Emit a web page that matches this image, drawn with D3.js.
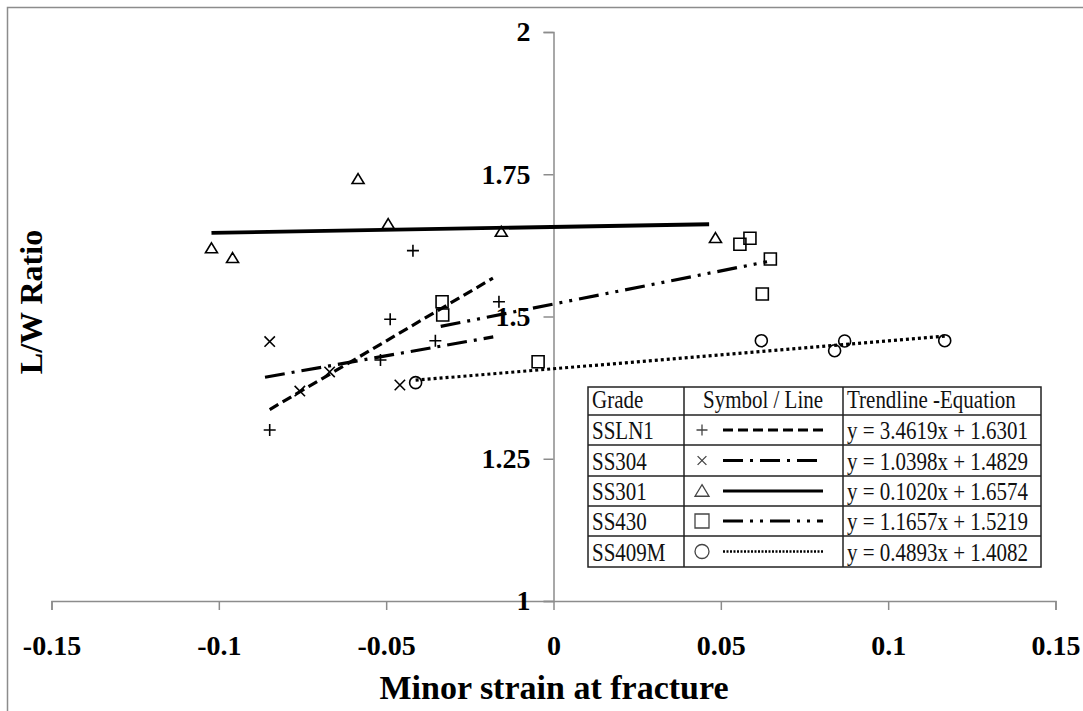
<!DOCTYPE html>
<html>
<head>
<meta charset="utf-8">
<script src="https://cdn.jsdelivr.net/npm/d3@7"></script>
<style>
  body { margin: 0; background: #fff; }
</style>
</head>
<body>
<div id="chart-area"></div>
<script>
const WIDTH = 1083
const HEIGHT = 711

// tick values and labels
const xTicks = [-0.15, -0.1, -0.05, 0, 0.05, 0.1, 0.15]
const xTickLabels = ["-0.15", "-0.1", "-0.05", "0", "0.05", "0.1", "0.15"]
const yTicks = [1, 1.25, 1.5, 1.75, 2]
const yTickLabels = ["1", "1.25", "1.5", "1.75", "2"]

// grades
const grades = ["SSLN1", "SS304", "SS301", "SS430", "SS409M"]
const symbols = ["plus", "cross", "triangle", "square", "circle"]
const slopes = [3.4619, 1.0398, 0.1020, 1.1657, 0.4893]
const intercepts = [1.6301, 1.4829, 1.6574, 1.5219, 1.4082]
const equations = [
	"y = 3.4619x + 1.6301",
	"y = 1.0398x + 1.4829",
	"y = 0.1020x + 1.6574",
	"y = 1.1657x + 1.5219",
	"y = 0.4893x + 1.4082"
]
// trendline x extents
const lineStart = [-0.0848, -0.0862, -0.1022, -0.0337, -0.0412]
const lineEnd = [-0.0181, -0.0180, 0.0465, 0.0638, 0.1169]

// measured points
const ssln1X = [-0.0848, -0.0420, -0.0488, -0.0517, -0.0353, -0.0163]
const ssln1Y = [1.3005, 1.6157, 1.4951, 1.4236, 1.4575, 1.5260]
const ss304X = [-0.0848, -0.0758, -0.0669, -0.0459]
const ss304Y = [1.4560, 1.3690, 1.4025, 1.3796]
const ss301X = [-0.1022, -0.0959, -0.0584, -0.0494, -0.0156, 0.0484]
const ss301Y = [1.6200, 1.6027, 1.7417, 1.6626, 1.6490, 1.6380]
const ss430X = [-0.0333, -0.0331, -0.0046, 0.0557, 0.0587, 0.0648, 0.0624]
const ss430Y = [1.5260, 1.5026, 1.4206, 1.6269, 1.6374, 1.6010, 1.5395]
const ss409mX = [-0.0412, 0.0621, 0.0840, 0.0870, 0.1169]
const ss409mY = [1.3837, 1.4575, 1.4399, 1.4570, 1.4575]

const seriesX = [ssln1X, ss304X, ss301X, ss430X, ss409mX]
const seriesY = [ssln1Y, ss304Y, ss301Y, ss430Y, ss409mY]

// line dash patterns per grade
const dashes = ["10,5", "20,7,3,7", null, "20,7,3,7,3,7", "3,3"]

const svg = d3.select("#chart-area").append("svg")
	.attr("width", WIDTH)
	.attr("height", HEIGHT)
	.style("font-family", "'Liberation Serif', 'Times New Roman', serif")

// outer frame
svg.append("rect")
	.attr("x", 7.5)
	.attr("y", 7.5)
	.attr("width", 1200)
	.attr("height", 800)
	.attr("fill", "none")
	.attr("stroke", "#8c8c8c")
	.attr("stroke-width", 1.5)

// scales
const x = d3.scaleLinear().domain([-0.15, 0.15]).range([51.5, 1055.5])
const y = d3.scaleLinear().domain([1, 2]).range([601, 32])

// x axis
const xAxis = svg.append("g")
	.attr("transform", `translate(0, ${y(1)})`)
	.call(d3.axisBottom(x).tickValues(xTicks).tickSize(9).tickSizeOuter(9)
		.tickFormat((d, i) => xTickLabels[i]))
xAxis.attr("font-family", null)
xAxis.selectAll("path, line").attr("stroke", "#8c8c8c").attr("stroke-width", 1.5)
xAxis.selectAll("text")
	.attr("y", 54)
	.attr("dy", null)
	.attr("fill", "#000")
	.attr("font-size", "28px")
	.attr("font-weight", "bold")

// y axis
const yAxis = svg.append("g")
	.attr("transform", `translate(${x(0)}, 0)`)
	.call(d3.axisLeft(y).tickValues(yTicks).tickSize(10).tickSizeOuter(10).tickPadding(13)
		.tickFormat((d, i) => yTickLabels[i]))
yAxis.attr("font-family", null)
yAxis.selectAll("path, line").attr("stroke", "#8c8c8c").attr("stroke-width", 1.5)
yAxis.selectAll("text")
	.attr("fill", "#000")
	.attr("font-size", "28px")
	.attr("font-weight", "bold")

// axis titles
svg.append("text")
	.attr("x", 554)
	.attr("y", 699)
	.attr("text-anchor", "middle")
	.attr("font-size", "34px")
	.attr("font-weight", "bold")
	.text("Minor strain at fracture")

svg.append("text")
	.attr("transform", "translate(42, 302) rotate(-90)")
	.attr("text-anchor", "middle")
	.attr("font-size", "32px")
	.attr("font-weight", "bold")
	.text("L/W Ratio")

// marker path generator
function marker(type, s) {
	const h = s / 2
	if (type == "plus") return `M${-h},0H${h}M0,${-h}V${h}`
	if (type == "cross") return `M${-h * 0.8},${-h * 0.8}L${h * 0.8},${h * 0.8}M${-h * 0.8},${h * 0.8}L${h * 0.8},${-h * 0.8}`
	if (type == "triangle") return `M0,${-h * 0.9}L${h},${h * 0.75}L${-h},${h * 0.75}Z`
	if (type == "square") return `M${-h},${-h}H${h}V${h}H${-h}Z`
	if (type == "circle") return `M${h},0A${h},${h} 0 1,1 ${-h},0A${h},${h} 0 1,1 ${h},0Z`
}

// trendlines
const line = d3.line()
	.x(d => x(d[0]))
	.y(d => y(d[1]))

const plot = svg.append("g")

grades.forEach((g, i) => {
	const pts = [lineStart[i], lineEnd[i]].map(v => [v, slopes[i] * v + intercepts[i]])
	plot.append("path")
		.attr("d", line(pts))
		.attr("fill", "none")
		.attr("stroke", "#000")
		.attr("stroke-width", i == 2 ? 3.8 : 3.2)
		.attr("stroke-dasharray", dashes[i])
})

// points
grades.forEach((g, i) => {
	plot.selectAll(`.pt-${i}`)
		.data(seriesX[i].map((v, j) => [v, seriesY[i][j]]))
		.enter().append("path")
		.attr("class", `pt-${i}`)
		.attr("transform", d => `translate(${x(d[0])}, ${y(d[1])})`)
		.attr("d", marker(symbols[i], symbols[i] == "cross" ? 13 : 12))
		.attr("fill", "none")
		.attr("stroke", "#000")
		.attr("stroke-width", 1.6)
})

// legend table
const TABLE = { LEFT: 588, TOP: 387, RIGHT: 1041 }
const colEdges = [588, 684, 843, 1041]
const rowEdges = [387, 415, 445, 476, 506, 536, 567]
const headers = ["Grade", "Symbol / Line", "Trendline -Equation"]

const legend = svg.append("g")

legend.append("rect")
	.attr("x", TABLE.LEFT)
	.attr("y", TABLE.TOP)
	.attr("width", TABLE.RIGHT - TABLE.LEFT)
	.attr("height", rowEdges[rowEdges.length - 1] - TABLE.TOP)
	.attr("fill", "#fff")
	.attr("stroke", "#222")
	.attr("stroke-width", 1.5)

rowEdges.slice(1, -1).forEach(r => {
	legend.append("line")
		.attr("x1", TABLE.LEFT).attr("x2", TABLE.RIGHT)
		.attr("y1", r).attr("y2", r)
		.attr("stroke", "#222").attr("stroke-width", 1.5)
})
colEdges.slice(1, -1).forEach(c => {
	legend.append("line")
		.attr("x1", c).attr("x2", c)
		.attr("y1", TABLE.TOP).attr("y2", rowEdges[rowEdges.length - 1])
		.attr("stroke", "#222").attr("stroke-width", 1.5)
})

const cellText = (tx, ty, str) => legend.append("text")
	.attr("transform", `translate(${tx}, ${ty}) scale(1, 1.15)`)
	.attr("font-size", "21px")
	.attr("fill", "#111")
	.text(str)

cellText(592, rowEdges[1] - 7, headers[0])
cellText(703, rowEdges[1] - 7, headers[1])
cellText(847, rowEdges[1] - 7, headers[2])

grades.forEach((g, i) => {
	const top = rowEdges[i + 1]
	const bottom = rowEdges[i + 2]
	const mid = (top + bottom) / 2
	cellText(592, bottom - 6, g)
	cellText(847, bottom - 6, equations[i])

	legend.append("path")
		.attr("transform", `translate(702, ${mid})`)
		.attr("d", marker(symbols[i], i < 2 ? 11 : 14))
		.attr("fill", "none")
		.attr("stroke", "#444")
		.attr("stroke-width", 1.3)

	legend.append("line")
		.attr("x1", 723).attr("x2", 823)
		.attr("y1", mid).attr("y2", mid)
		.attr("stroke", "#000")
		.attr("stroke-width", i == 4 ? 2.5 : 3)
		.attr("stroke-dasharray", i == 4 ? "2,1.5" : dashes[i])
})
</script>
</body>
</html>
